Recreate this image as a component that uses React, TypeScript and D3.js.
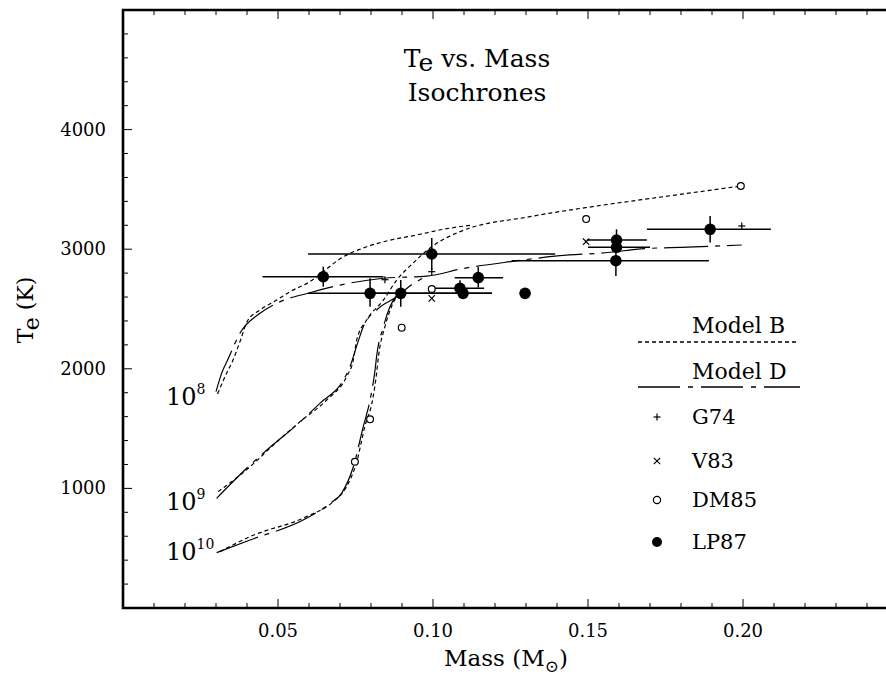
import React from "react";
import * as d3 from "d3";

const W = 886;
const H = 679;
const FONT = "'DejaVu Serif', serif";

const xDomain: [number, number] = [0, 0.25];
const yDomain: [number, number] = [0, 5000];
const xTickLabels = [0.05, 0.1, 0.15, 0.2];
const yTickLabels = [1000, 2000, 3000, 4000];

// Isochrones [mass, Te]
const modelB_1e8: [number, number][] = [
  [0.0305, 1790], [0.033, 1940], [0.0355, 2074], [0.0383, 2269], [0.04, 2394],
  [0.0442, 2492], [0.0496, 2575], [0.0539, 2645], [0.0603, 2729], [0.0646, 2812],
  [0.07, 2920], [0.0775, 3010], [0.086, 3075], [0.095, 3120], [0.103, 3165], [0.112, 3200],
];
const modelD_1e8: [number, number][] = [
  [0.03, 1809], [0.0318, 1962], [0.034, 2088], [0.0377, 2297], [0.0442, 2464],
  [0.0496, 2548], [0.0603, 2636], [0.07, 2700], [0.084, 2757], [0.098, 2775],
  [0.11, 2840], [0.125, 2896], [0.144, 2952], [0.153, 2965], [0.17, 3007],
  [0.18, 3016], [0.1996, 3035],
];
const modelB_1e9: [number, number][] = [
  [0.0307, 973], [0.041, 1181], [0.0485, 1363], [0.0571, 1558], [0.0657, 1739],
  [0.0721, 1934], [0.0743, 2074], [0.0754, 2241], [0.0786, 2408], [0.084, 2575],
  [0.0883, 2742], [0.0936, 2885], [0.0996, 3021], [0.1087, 3147], [0.1313, 3272],
  [0.1528, 3361], [0.1743, 3439], [0.1993, 3528],
];
const modelD_1e9: [number, number][] = [
  [0.0302, 917], [0.0399, 1168], [0.0464, 1321], [0.056, 1530], [0.0635, 1711],
  [0.0711, 1906], [0.0732, 2017], [0.0755, 2200], [0.0775, 2352], [0.0818, 2492],
  [0.0883, 2603], [0.093, 2700], [0.098, 2775],
];
const modelB_1e10: [number, number][] = [
  [0.0313, 471], [0.041, 597], [0.0592, 764], [0.0678, 889], [0.0721, 1014],
  [0.0754, 1223], [0.078, 1516], [0.0805, 1740], [0.0818, 1962], [0.0824, 2102],
  [0.0845, 2352], [0.0866, 2519], [0.0894, 2645],
];
const modelD_1e10: [number, number][] = [
  [0.0302, 463], [0.041, 569], [0.0592, 750], [0.0668, 875], [0.0705, 959],
  [0.0743, 1181], [0.0775, 1516], [0.0797, 1739], [0.0813, 1990], [0.0818, 2102],
  [0.084, 2352], [0.0861, 2519], [0.0888, 2631],
];

// Observations
const g74Mass = [0.0845, 0.0996, 0.1996];
const g74Te = [2745, 2812, 3194];
const v83Mass = [0.0996, 0.1494];
const v83Te = [2589, 3063];
const dm85Mass = [0.0748, 0.0797, 0.0899, 0.0996, 0.1494, 0.1993];
const dm85Te = [1223, 1578, 2344, 2667, 3252, 3528];
const lp87Mass = [0.0996, 0.0646, 0.0797, 0.0896, 0.1087, 0.1097, 0.1146, 0.1297, 0.1592, 0.1592, 0.159, 0.1894];
const lp87Te = [2960, 2770, 2631, 2631, 2673, 2631, 2762, 2631, 3077, 3016, 2904, 3166];
const lp87MassLo = [0.0597, 0.045, 0.0597, 0.0797, 0.0996, 0.1, 0.107, NaN, 0.1496, 0.15, 0.1254, 0.169];
const lp87MassHi = [0.1394, 0.084, 0.0996, 0.119, 0.1165, 0.119, 0.1226, NaN, 0.169, 0.17, 0.189, 0.209];
const lp87TeLo = [2826, 2687, 2519, 2519, 2640, NaN, 2680, NaN, 3000, NaN, 2776, 3055];
const lp87TeHi = [3094, 2854, 2757, 2742, 2740, NaN, 2850, NaN, 3166, NaN, 3000, 3277];

const isoLabels = ["8", "9", "10"];
const isoLabelTe = [1800, 920, 500];

const legendModels = ["Model B", "Model D"];
const legendSymbols = ["G74", "V83", "DM85", "LP87"];

const DASH_B = "4 3";
const DASH_D = "44 7 5 7";

export default function App() {
  const x = d3.scaleLinear().domain(xDomain).range([123, 898]);
  const y = d3.scaleLinear().domain(yDomain).range([608, 10]);
  const line = d3
    .line<[number, number]>()
    .x((d) => x(d[0]))
    .y((d) => y(d[1]))
    .curve(d3.curveMonotoneX);

  const xMinor = d3.range(1, 25).map((i) => i / 100);
  const yMinor = d3.range(1, 25).map((i) => i * 200);

  const curvesB = [modelB_1e8, modelB_1e9, modelB_1e10];
  const curvesD = [modelD_1e8, modelD_1e9, modelD_1e10];

  const plus = (cx: number, cy: number, s: number, k: string) => (
    <g key={k} stroke="#000" strokeWidth={1.2}>
      <line x1={cx - s} x2={cx + s} y1={cy} y2={cy} />
      <line x1={cx} x2={cx} y1={cy - s} y2={cy + s} />
    </g>
  );
  const cross = (cx: number, cy: number, s: number, k: string) => (
    <g key={k} stroke="#000" strokeWidth={1.2}>
      <line x1={cx - s} x2={cx + s} y1={cy - s} y2={cy + s} />
      <line x1={cx - s} x2={cx + s} y1={cy + s} y2={cy - s} />
    </g>
  );

  const legX = 657;
  const legTextX = 692;
  const legBaselines = [424, 468, 507, 549];

  return (
    <svg
      width={W}
      height={H}
      style={{ position: "absolute", left: 0, top: 0, background: "#fff" }}
      fontFamily={FONT}
    >
      <rect x={0} y={0} width={W} height={H} fill="#fff" />

      {/* curves */}
      {curvesB.map((c, i) => (
        <path key={"b" + i} d={line(c) || ""} fill="none" stroke="#000" strokeWidth={1.2} strokeDasharray={DASH_B} />
      ))}
      {curvesD.map((c, i) => (
        <path key={"d" + i} d={line(c) || ""} fill="none" stroke="#000" strokeWidth={1.2} strokeDasharray={DASH_D} />
      ))}

      {/* LP87 error bars */}
      {lp87Mass.map((m, i) => (
        <g key={"e" + i} stroke="#000" strokeWidth={1.5}>
          {!isNaN(lp87MassLo[i]) && (
            <line x1={x(lp87MassLo[i])} x2={x(lp87MassHi[i])} y1={y(lp87Te[i])} y2={y(lp87Te[i])} />
          )}
          {!isNaN(lp87TeLo[i]) && (
            <line x1={x(m)} x2={x(m)} y1={y(lp87TeLo[i])} y2={y(lp87TeHi[i])} />
          )}
        </g>
      ))}
      {lp87Mass.map((m, i) => (
        <circle key={"lp" + i} cx={x(m)} cy={y(lp87Te[i])} r={5.8} fill="#000" />
      ))}
      {dm85Mass.map((m, i) => (
        <circle key={"dm" + i} cx={x(m)} cy={y(dm85Te[i])} r={3.4} fill="#fff" stroke="#000" strokeWidth={1.2} />
      ))}
      {g74Mass.map((m, i) => plus(x(m), y(g74Te[i]), 3.5, "g" + i))}
      {v83Mass.map((m, i) => cross(x(m), y(v83Te[i]), 3.2, "v" + i))}

      {/* frame */}
      <path d={`M${x(0.25)},${y(5000)} H${x(0)} V${y(0)} H${x(0.25)}`} fill="none" stroke="#000" strokeWidth={2.6} />
      {xMinor.map((t) => {
        const major = Math.round(t * 100) % 5 === 0;
        const len = major ? 9 : 5;
        return (
          <g key={"xt" + t} stroke="#000" strokeWidth={1}>
            <line x1={x(t)} x2={x(t)} y1={y(0)} y2={y(0) - len} />
            <line x1={x(t)} x2={x(t)} y1={y(5000)} y2={y(5000) + len} />
          </g>
        );
      })}
      {yMinor.map((t) => {
        const major = t % 1000 === 0;
        const len = major ? 9 : 5;
        return <line key={"yt" + t} x1={x(0)} x2={x(0) + len} y1={y(t)} y2={y(t)} stroke="#000" strokeWidth={1} />;
      })}

      {/* tick labels */}
      {xTickLabels.map((t) => (
        <text key={"xl" + t} x={x(t)} y={637} textAnchor="middle" fontSize={18}>
          {t.toFixed(2)}
        </text>
      ))}
      {yTickLabels.map((t) => (
        <text key={"yl" + t} x={106} y={y(t) + 6} textAnchor="end" fontSize={18}>
          {t}
        </text>
      ))}

      {/* axis titles */}
      <text x={506} y={666} textAnchor="middle" fontSize={23}>
        Mass (M<tspan dy={6} fontSize={17}>⊙</tspan>
        <tspan dy={-6}>)</tspan>
      </text>
      <text transform="translate(33,310) rotate(-90)" textAnchor="middle" fontSize={22}>
        T<tspan dy={6}>e</tspan>
        <tspan dy={-6}> (K)</tspan>
      </text>

      {/* title */}
      <text x={477} y={67} textAnchor="middle" fontSize={25}>
        T<tspan dy={4}>e</tspan>
        <tspan dy={-4}> vs. Mass</tspan>
      </text>
      <text x={477} y={101} textAnchor="middle" fontSize={25}>
        Isochrones
      </text>

      {/* isochrone labels */}
      {isoLabels.map((s, i) => (
        <text key={"il" + i} x={166} y={y(isoLabelTe[i]) + 12} fontSize={24}>
          10<tspan dy={-11} fontSize={14}>{s}</tspan>
        </text>
      ))}

      {/* legend */}
      <text x={legTextX} y={333} fontSize={22}>{legendModels[0]}</text>
      <line x1={638} x2={798} y1={342} y2={342} stroke="#000" strokeWidth={1.3} strokeDasharray={DASH_B} />
      <text x={legTextX} y={379} fontSize={22}>{legendModels[1]}</text>
      <line x1={638} x2={800} y1={387} y2={387} stroke="#000" strokeWidth={1.3} strokeDasharray="42 8 5 8" />
      {legendSymbols.map((s, i) => (
        <text key={"ls" + i} x={legTextX} y={legBaselines[i]} fontSize={21}>
          {s}
        </text>
      ))}
      {plus(legX, legBaselines[0] - 7, 3.5, "lg0")}
      {cross(legX, legBaselines[1] - 7, 3.2, "lg1")}
      <circle cx={legX} cy={legBaselines[2] - 7} r={3.6} fill="#fff" stroke="#000" strokeWidth={1.2} />
      <circle cx={legX} cy={legBaselines[3] - 7} r={5} fill="#000" />
    </svg>
  );
}
